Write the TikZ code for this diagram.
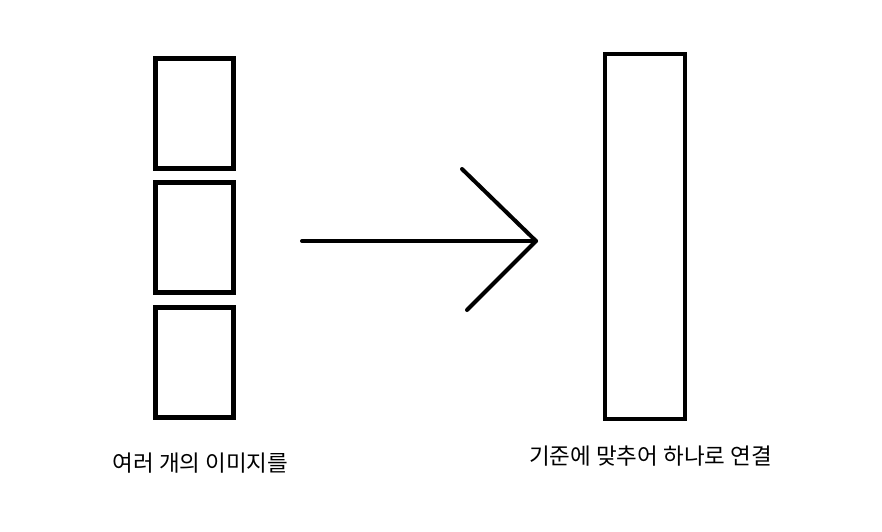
\documentclass[tikz,border=0pt]{standalone}
\usepackage{fontspec}
\newfontfamily\krfont{Noto Sans CJK KR}
\tikzset{
  imgbox/.style={draw, line width=4.7pt, inner sep=0pt, minimum width=78pt, minimum height=110pt},
  joinbox/.style={draw, line width=4.7pt, inner sep=0pt, minimum width=80pt, minimum height=365pt},
  caption/.style={font=\krfont\fontsize{22.5}{26}\selectfont, inner sep=0pt}
}
\begin{document}
\begin{tikzpicture}[x=1pt,y=-1pt]
\useasboundingbox (0,0) rectangle (882,531);

\node[imgbox] (img1) at (194.5,113.5) {};
\node[imgbox] (img2) at (194.5,237.5) {};
\node[imgbox] (img3) at (194.5,362.5) {};
\node[joinbox] (joined) at (645,236.5) {};

\coordinate (start) at (302,241);
\coordinate (tip) at (536,241);
\coordinate (barbup) at (462,169);
\coordinate (barbdown) at (467,310);
\draw[line width=4pt, line cap=round, line join=round] (start) -- (tip);
\draw[line width=4pt, line cap=round, line join=round] (barbup) -- (tip) -- (barbdown);

\node[caption] (left) at (200.5,463) {여러 개의 이미지를};
\node[caption] (right) at (650.5,456) {기준에 맞추어 하나로 연결};
\end{tikzpicture}
\end{document}
